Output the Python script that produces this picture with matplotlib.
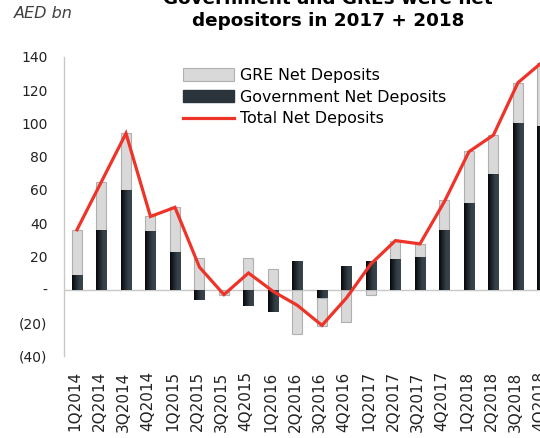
import numpy as np
import matplotlib
matplotlib.use('Agg')
import matplotlib.pyplot as plt
from matplotlib.patches import Patch
from matplotlib.lines import Line2D
from matplotlib.colors import LinearSegmentedColormap
from matplotlib.ticker import FuncFormatter

quarters = ['1Q2014', '2Q2014', '3Q2014', '4Q2014',
            '1Q2015', '2Q2015', '3Q2015', '4Q2015',
            '1Q2016', '2Q2016', '3Q2016', '4Q2016',
            '1Q2017', '2Q2017', '3Q2017', '4Q2017',
            '1Q2018', '2Q2018', '3Q2018', '4Q2018']
gov = [8.5, 36, 60, 35.5, 22.5, -6, -0.5, -10, -13.5, 17.5,
       -5, 14.5, 17.5, 18.5, 19.5, 36, 52, 69.5, 100, 98.5]
gre = [27.5, 29, 34, 8.5, 27, 19, -2.5, 19, 12.5, -27,
       -17, -19.5, -3, 11, 8, 18, 31.5, 23.5, 24.5, 38]
total = [36, 65, 94, 44, 49.5, 13.5, -3, 10, -1, -9.5,
         -21.5, -5, 15.5, 29.5, 27.5, 53, 83, 93, 124.5, 137]

gov_a = np.array(gov)
gre_a = np.array(gre)
# GRE sits on top of government when both share a sign, else starts at zero
gre_bottom = np.where(np.sign(gov_a) == np.sign(gre_a), gov_a, 0)

fig = plt.figure(figsize=(5.4, 4.38), dpi=100)
ax = fig.add_axes([0.1185, 0.187, 0.8815, 0.683])

x = np.arange(len(quarters))
w = 0.41
ax.bar(x, gre_a, w, bottom=gre_bottom, color='#d9d9d9', edgecolor='#b0b0b0',
       linewidth=0.8, zorder=2)
gov_bars = ax.bar(x, gov_a, w, color='#2b343b', linewidth=0, zorder=3)

# horizontal gradient on the government bars
cmap = LinearSegmentedColormap.from_list('g', ['#050708', '#1e252a', '#343f47', '#38444c'])
grad = np.linspace(0, 1, 64).reshape(1, -1)
for b in gov_bars:
    x0, y0 = b.get_x(), b.get_y()
    x1, y1 = x0 + b.get_width(), y0 + b.get_height()
    im = ax.imshow(grad, cmap=cmap, aspect='auto', extent=(x0, x1, min(y0, y1), max(y0, y1)),
                   zorder=3.5, interpolation='bilinear')
    im.set_clip_path(b)

ax.plot(x, total, color='#ee3329', linewidth=2.3, zorder=5, solid_joinstyle='miter')

ax.axhline(0, color='#c8c8c8', linewidth=1, zorder=1)
ax.set_xlim(-0.53, 18.9)
ax.set_ylim(-40, 140)
ax.set_yticks(range(-40, 141, 20))


def fmt(v, pos):
    if v == 0:
        return '-'
    if v < 0:
        return '(%d)' % abs(v)
    return '%d' % v


ax.yaxis.set_major_formatter(FuncFormatter(fmt))
ax.set_xticks(x - 0.1)
ax.set_xticklabels(quarters, rotation=90)
ax.tick_params(axis='y', length=0, pad=12, labelsize=10, labelcolor='#222222')
ax.tick_params(axis='x', length=0, pad=11, labelsize=11, labelcolor='#222222')
for s in ['top', 'right', 'bottom']:
    ax.spines[s].set_visible(False)
ax.spines['left'].set_color('#c8c8c8')
ax.spines['left'].set_linewidth(1)

handles = [Patch(facecolor='#d9d9d9', edgecolor='#b0b0b0', linewidth=0.8),
           Patch(facecolor='#2b343b', edgecolor='#2b343b'),
           Line2D([0], [0], color='#ee3329', linewidth=2.3)]
labels = ['GRE Net Deposits', 'Government Net Deposits', 'Total Net Deposits']
fig.legend(handles, labels, loc='upper left', bbox_to_anchor=(183 / 540, 1 - 68 / 438),
           frameon=False, fontsize=11.4, borderpad=0, borderaxespad=0,
           handlelength=3.2, handleheight=0.8, handletextpad=0.4, labelspacing=0.42)

fig.text(14 / 540, 1 - 14 / 438, 'AED bn', fontsize=11.5, style='italic', color='#404040',
         va='center', ha='left')
fig.text(328 / 540, 1 - 26 / 438, 'Government and GREs were net\ndepositors in 2017 + 2018',
         fontsize=13.2, fontweight='bold', ha='center', va='baseline', linespacing=1.3)

fig.savefig('out.png', dpi=100)
